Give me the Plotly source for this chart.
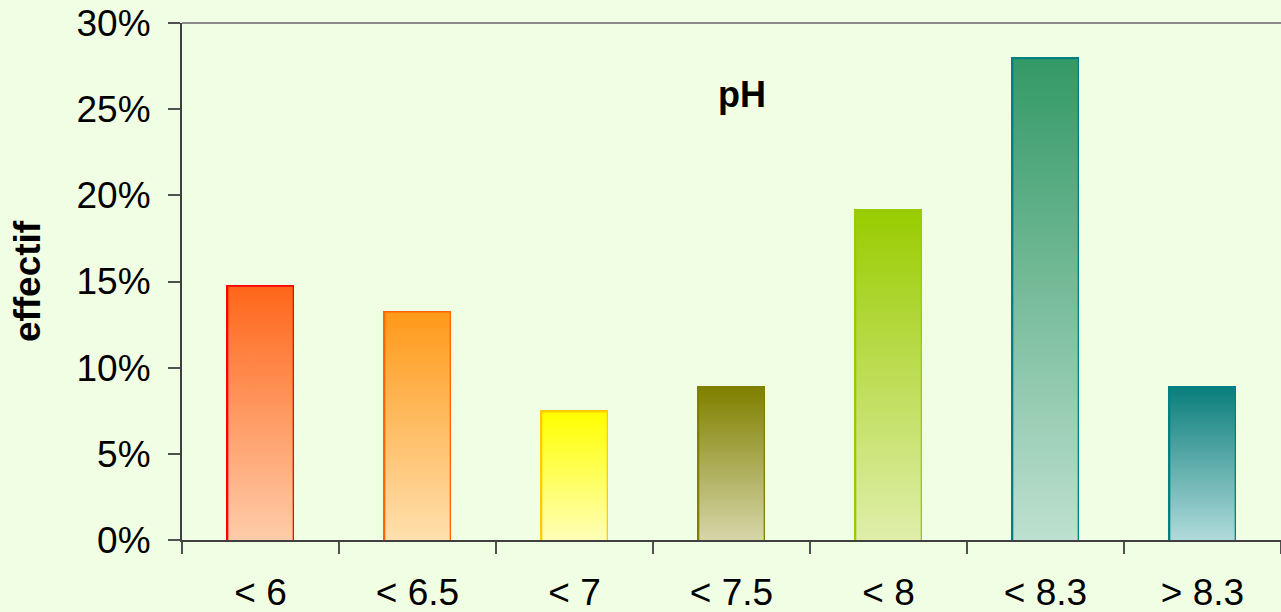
import plotly.graph_objects as go

# pH classes and share of samples in each class (%)
categories = ["< 6", "< 6.5", "< 7", "< 7.5", "< 8", "< 8.3", "> 8.3"]
shares = [14.7, 13.2, 7.4, 8.8, 19.1, 27.9, 8.8]

# Per-bar gradient (top colour, bottom colour) and outline colour
top_colors = ["#FF6619", "#FF9919", "#FFFF00", "#808000", "#99CC00", "#339966", "#0B7F7C"]
bottom_colors = ["#FFCCAA", "#FFE0AE", "#FFFFB8", "#D6D6AA", "#E0EEAA", "#BEE0D0", "#B0DADA"]
outline_colors = ["#FF0000", "#FF6600", "#FFCC00", "#808000", "#99CC00", "#008080", "#008080"]

y_ticks = [0, 5, 10, 15, 20, 25, 30]

BG = "#F0FFE4"
AXIS = "#404040"
FONT = "Liberation Sans, Arial, sans-serif"
BAR_WIDTH = 0.41
TICK_FONT = 37

positions = list(range(len(categories)))
boundaries = [p - 0.5 for p in positions] + [positions[-1] + 0.5]

fig = go.Figure()

# Gradient fills, one polygon per bar
half = BAR_WIDTH / 2
for p, v, top, bottom in zip(positions, shares, top_colors, bottom_colors):
    fig.add_trace(go.Scatter(
        x=[p - half, p + half, p + half, p - half, p - half],
        y=[0, 0, v, v, 0],
        mode="lines",
        line=dict(width=0),
        fill="toself",
        fillgradient=dict(type="vertical", colorscale=[[0, bottom], [1, top]]),
        hoverinfo="skip",
        showlegend=False,
    ))

# Bars (outlines) on top of the gradients
fig.add_trace(go.Bar(
    x=positions,
    y=shares,
    width=BAR_WIDTH,
    marker=dict(color="rgba(0,0,0,0)", line=dict(color=outline_colors, width=3)),
    customdata=categories,
    hovertemplate="pH %{customdata}: %{y:.1f}%<extra></extra>",
    showlegend=False,
))

fig.update_layout(
    width=1281,
    height=612,
    margin=dict(l=182, r=0, t=23, b=72),
    paper_bgcolor=BG,
    plot_bgcolor=BG,
    font=dict(family=FONT, color="#000000"),
    bargap=0,
    xaxis=dict(
        range=[-0.5, len(categories) - 0.5],
        tickmode="array",
        tickvals=positions,
        ticktext=categories,
        ticks="",
        tickfont=dict(size=TICK_FONT, family=FONT),
        ticklabelstandoff=19,
        showline=True,
        linecolor=AXIS,
        linewidth=2,
        showgrid=False,
        zeroline=False,
        fixedrange=True,
        minor=dict(
            tickmode="array",
            tickvals=boundaries,
            ticks="outside",
            ticklen=12,
            tickwidth=2,
            tickcolor="#505050",
            showgrid=False,
        ),
    ),
    yaxis=dict(
        range=[0, 30],
        tickmode="array",
        tickvals=y_ticks,
        ticktext=[f"{t}%" for t in y_ticks],
        ticks="outside",
        ticklen=12,
        tickwidth=2,
        tickcolor="#505050",
        tickfont=dict(size=TICK_FONT, family=FONT),
        ticklabelstandoff=10,
        showline=True,
        linecolor=AXIS,
        linewidth=2,
        showgrid=False,
        zeroline=False,
        fixedrange=True,
    ),
    shapes=[
        dict(type="line", xref="paper", yref="paper", x0=0, x1=1, y0=1, y1=1,
             line=dict(color="#8A8A8A", width=2)),
    ],
    annotations=[
        dict(text="<b>pH</b>", xref="paper", yref="paper", x=0.5096, y=0.862,
             xanchor="center", yanchor="middle", showarrow=False,
             font=dict(size=36, family=FONT)),
        dict(text="<b>effectif</b>", xref="paper", yref="paper", x=-0.140, y=0.501,
             xanchor="center", yanchor="middle", textangle=-90, showarrow=False,
             font=dict(size=37, family=FONT)),
    ],
)

fig.write_html("out.html")
